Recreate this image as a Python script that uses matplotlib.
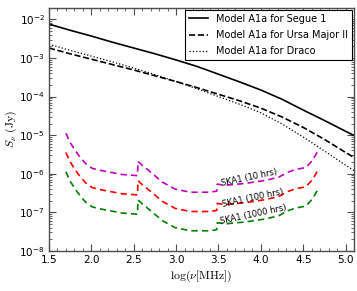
import numpy as np
import matplotlib
matplotlib.use("Agg")
import matplotlib.pyplot as plt
from matplotlib.ticker import MultipleLocator, LogLocator, NullFormatter, FixedLocator

plt.rcParams['mathtext.fontset'] = 'cm'

# model curves: log10(nu/MHz) vs log10(S/Jy)
x_model = [1.5, 1.75, 2.0, 2.25, 2.5, 2.75, 3.0, 3.25, 3.5, 3.75, 4.0, 4.25, 4.5, 4.75, 5.0, 5.1]
logS_segue = [-2.12, -2.28, -2.43, -2.59, -2.74, -2.89, -3.05, -3.22, -3.42, -3.62,
              -3.83, -4.07, -4.35, -4.62, -4.90, -5.01]
logS_uma2 = [-2.74, -2.89, -3.03, -3.17, -3.31, -3.46, -3.61, -3.77, -3.94, -4.11,
             -4.30, -4.53, -4.80, -5.11, -5.45, -5.58]
logS_draco = [-2.64, -2.80, -2.95, -3.10, -3.26, -3.43, -3.61, -3.80, -4.00, -4.20,
              -4.42, -4.71, -5.05, -5.41, -5.78, -5.92]

# SKA1 sensitivity curves
x_ska = [1.70, 1.75, 1.81, 1.87, 1.93, 2.01, 2.10, 2.22, 2.36, 2.49, 2.545, 2.55, 2.60,
         2.70, 2.84, 2.99, 3.17, 3.40, 3.48, 3.485, 3.58, 3.82, 4.06, 4.21, 4.32, 4.41,
         4.53, 4.61, 4.68]
logS_ska10 = [-4.95, -5.19, -5.40, -5.58, -5.73, -5.86, -5.91, -5.96, -6.02, -6.04, -6.05,
              -5.68, -5.78, -5.96, -6.22, -6.40, -6.48, -6.48, -6.45, -6.27, -6.30, -6.25,
              -6.17, -6.09, -5.96, -5.89, -5.84, -5.65, -5.38]
logS_ska100 = [-5.45, -5.69, -5.90, -6.08, -6.23, -6.36, -6.41, -6.46, -6.52, -6.54, -6.55,
               -6.18, -6.28, -6.46, -6.72, -6.90, -6.98, -6.98, -6.95, -6.77, -6.80, -6.75,
               -6.67, -6.59, -6.46, -6.39, -6.34, -6.15, -5.88]
logS_ska1000 = [-5.95, -6.19, -6.40, -6.58, -6.73, -6.86, -6.91, -6.96, -7.02, -7.04, -7.05,
                -6.68, -6.78, -6.96, -7.22, -7.40, -7.48, -7.48, -7.45, -7.27, -7.30, -7.25,
                -7.17, -7.09, -6.96, -6.89, -6.84, -6.65, -6.38]

ska_labels = ["SKA1 (10 hrs)", "SKA1 (100 hrs)", "SKA1 (1000 hrs)"]
label_x = [3.86, 3.91, 3.91]
label_logS = [-6.09, -6.62, -7.07]

y_ticks = [1e-8, 1e-7, 1e-6, 1e-5, 1e-4, 1e-3, 1e-2]

fig = plt.figure(figsize=(3.57, 2.91), dpi=100)
ax = fig.add_axes([0.137, 0.138, 0.855, 0.835])

def S(v):
    return 10 ** np.array(v)

ax.plot(x_model, S(logS_segue), 'k-', lw=1.2, label="Model A1a for Segue 1")
ax.plot(x_model, S(logS_uma2), 'k--', lw=1.2, label="Model A1a for Ursa Major II")
ax.plot(x_model, S(logS_draco), 'k:', lw=0.9, label="Model A1a for Draco")

for ys, c in zip([logS_ska10, logS_ska100, logS_ska1000], ['m', 'r', 'g']):
    ax.plot(x_ska, S(ys), '--', color=c, lw=1.2, dashes=(3.8, 2.5))

for t, xx, yy in zip(ska_labels, label_x, label_logS):
    ax.text(xx, 10 ** yy, t, fontsize=6, rotation=12, ha='center', va='center')

ax.set_yscale('log')
ax.set_xlim(1.5, 5.1)
ax.set_ylim(1e-8, 2e-2)
ax.xaxis.set_major_locator(MultipleLocator(0.5))
ax.xaxis.set_minor_locator(MultipleLocator(0.1))
ax.yaxis.set_major_locator(FixedLocator(y_ticks))
ax.yaxis.set_minor_locator(LogLocator(base=10, subs=np.arange(2, 10), numticks=20))
ax.yaxis.set_minor_formatter(NullFormatter())
ax.tick_params(which='both', direction='in', top=True, right=True, labelsize=7.5,
               color='0.3', pad=3)
ax.tick_params(which='major', length=5)
ax.tick_params(which='minor', length=2.5)
for s in ax.spines.values():
    s.set_color('0.3')
    s.set_linewidth(1.0)

ax.set_xlabel(r'$\log(\nu[\rm MHz])$', fontsize=8.5, labelpad=3)
ax.set_ylabel(r'$S_\nu\ (\rm Jy)$', fontsize=8.5, labelpad=0)

leg = ax.legend(loc='upper right', fontsize=7, fancybox=False, framealpha=1,
                edgecolor='k', borderaxespad=0.2, handlelength=1.9,
                handletextpad=0.9, labelspacing=0.65)
leg.get_frame().set_linewidth(0.8)

fig.savefig('out.png', dpi=100)
